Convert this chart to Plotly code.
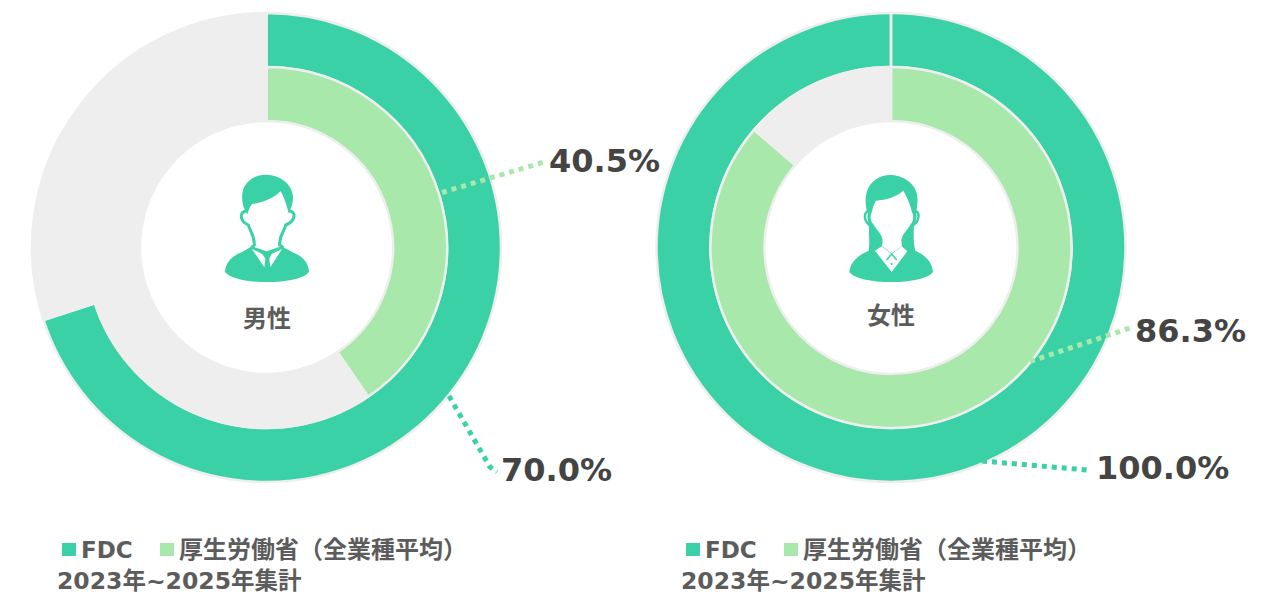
import plotly.graph_objects as go

# ---- data ----
panel_labels = ["男性", "女性"]
fdc_values = [70.0, 100.0]
mhlw_values = [40.5, 86.3]
series_names = ["FDC", "厚生労働省（全業種平均）"]
period_label = "2023年~2025年集計"

# ---- style ----
W, H = 1280, 603
TEAL, LIGHT, GREY, EDGE = "#3bd1a6", "#a8e8ab", "#eeeeee", "#eeeeee"
TXT, VAL = "#5c5c5c", "#444444"
LATIN_CJK = "'DejaVu Sans', 'Noto Sans CJK JP', sans-serif"
centers = [(266.5, 247.5), (891, 247.5)]
R_OUT, R_MID, R_IN = 234.5, 180.5, 126.5


def dom(cx, cy, r):
    return dict(x=[(cx - r) / W, (cx + r) / W], y=[1 - (cy + r) / H, 1 - (cy - r) / H])


fig = go.Figure()
for (cx, cy), fdc, mh, lab in zip(centers, fdc_values, mhlw_values, panel_labels):
    fig.add_trace(go.Pie(values=[fdc, 100 - fdc], labels=[series_names[0], "残り"], sort=False,
                         direction="clockwise", rotation=0, hole=R_MID / R_OUT, domain=dom(cx, cy, R_OUT),
                         marker=dict(colors=[TEAL, GREY], line=dict(color=EDGE, width=2.5)),
                         textinfo="none", hoverinfo="skip", showlegend=False))
    fig.add_trace(go.Pie(values=[mh, 100 - mh], labels=[series_names[1], "残り"], sort=False,
                         direction="clockwise", rotation=0, hole=R_IN / R_MID, domain=dom(cx, cy, R_MID),
                         marker=dict(colors=[LIGHT, GREY], line=dict(color=EDGE, width=2.5)),
                         textinfo="none", hoverinfo="skip", showlegend=False))

shapes = []


def P(d, fill=None, line=None, lw=0, ox=0, oy=0, s=1.0):
    """Path given in zoom-crop units (1/3 px) translated to the page."""
    out = []
    for tok in d.split():
        if "," in tok:
            a, b = tok.split(",")
            out.append(f"{ox + float(a) * s:.2f},{oy + float(b) * s:.2f}")
        else:
            out.append(tok)
    shapes.append(dict(type="path", xref="x", yref="y", path=" ".join(out),
                       fillcolor=fill or "rgba(0,0,0,0)",
                       line=dict(color=line or "rgba(0,0,0,0)", width=lw)))


def man(ox, oy):
    k = dict(ox=ox, oy=oy, s=1 / 3)
    # body with V-shaped neck opening
    P("M 165,365 C 167,335 190,316 215,307 L 246,289 L 290,304 L 334,289 L 368,307 "
      "C 395,317 415,335 417,365 C 405,385 350,396 290,396 C 230,396 178,385 165,365 Z", fill=TEAL, **k)
    # shirt wings beside the tie
    P("M 246,297 L 277,312 L 286,326 L 283,352 Z", fill="#ffffff", **k)
    P("M 336,297 L 305,312 L 298,326 L 301,352 Z", fill="#ffffff", **k)
    # neck and ear outline
    P("M 232,183 C 208,182 206,212 235,225 C 240,245 254,255 253,285 L 244,293", line=TEAL, lw=3, **k)
    P("M 356,183 C 378,182 380,212 347,225 C 343,245 328,255 329,285 L 340,293", line=TEAL, lw=3, **k)
    # hair
    P("M 232,192 C 216,172 212,135 222,112 C 238,84 265,72 295,75 C 335,78 367,105 369,140 "
      "C 370,160 362,178 356,190 C 350,165 342,140 332,124 C 310,145 280,158 246,162 C 240,170 236,180 232,192 Z",
      fill=TEAL, **k)


def woman(ox, oy):
    k = dict(ox=ox, oy=oy, s=1 / 3)
    # hair mass and body
    P("M 178,365 C 182,335 205,315 236,302 C 240,280 236,240 236,205 C 225,170 222,135 238,108 "
      "C 255,84 280,73 305,75 C 345,78 380,105 382,140 C 384,170 378,190 372,210 C 372,240 368,275 376,302 "
      "C 405,315 426,335 429,365 C 418,385 360,396 305,396 C 245,396 190,385 178,365 Z", fill=TEAL, **k)
    # face and neck
    P("M 258,152 C 290,150 320,140 340,122 C 350,140 362,165 366,188 C 372,192 372,215 362,222 "
      "C 355,240 336,250 334,272 L 336,288 L 305,310 L 276,288 L 278,272 C 276,250 258,240 250,222 "
      "C 240,215 240,192 246,186 C 248,172 252,162 258,152 Z", fill="#ffffff", **k)
    # ears
    P("M 238,183 C 222,182 218,212 240,226 L 236,200 Z", fill="#ffffff", line=TEAL, lw=2.5, **k)
    P("M 374,183 C 390,182 390,212 370,226 L 376,200 Z", fill="#ffffff", line=TEAL, lw=2.5, **k)
    # collar
    P("M 255,302 L 275,289 L 305,312 L 335,289 L 352,304 L 305,366 Z", fill="#ffffff", **k)
    P("M 290,330 L 305,312 L 320,330", line=TEAL, lw=1.5, **k)
    P("M 301,342 L 305,338 L 309,342 L 305,346 Z", fill=TEAL, **k)


man(170, 150)
woman(790, 150)

# seam of the complete outer ring on the right
shapes.append(dict(type="line", xref="x", yref="y", x0=891, x1=891, y0=13, y1=67,
                   line=dict(color=EDGE, width=2.5)))


def leader(pts, color):
    path = "M " + " L ".join(f"{x},{y}" for x, y in pts)
    shapes.append(dict(type="path", xref="x", yref="y", path=path,
                       line=dict(color=color, width=5, dash="5px,5px")))


leader([(442, 192.5), (544, 162)], LIGHT)
leader([(449, 396), (490, 467), (497, 472)], TEAL)
leader([(1030, 361.5), (1133, 327)], LIGHT)
leader([(982, 461), (1087, 470)], TEAL)

annotations = []


def text(x, y, s, size, color, anchor="left", bold=True, family=LATIN_CJK):
    annotations.append(dict(xref="x", yref="y", x=x, y=y, text=f"<b>{s}</b>" if bold else s, showarrow=False,
                            xanchor=anchor, yanchor="middle", align=anchor,
                            font=dict(size=size, color=color, family=family)))


value_pos = [((547, 161), (499, 470)), ((1133, 331), (1094, 468))]
for (p_mh, p_fdc), mh, fdc in zip(value_pos, mhlw_values, fdc_values):
    text(p_mh[0], p_mh[1], f"{mh:.1f}%", 32, VAL)
    text(p_fdc[0], p_fdc[1], f"{fdc:.1f}%", 32, VAL)

text(267, 319, panel_labels[0], 24, TXT, "center")
text(891, 316, panel_labels[1], 24, TXT, "center")

for ox in (0, 624):
    shapes.append(dict(type="rect", xref="x", yref="y", x0=62 + ox, x1=76 + ox, y0=543, y1=556,
                       fillcolor=TEAL, line=dict(width=0)))
    shapes.append(dict(type="rect", xref="x", yref="y", x0=160 + ox, x1=174 + ox, y0=543, y1=556,
                       fillcolor=LIGHT, line=dict(width=0)))
    text(79 + ox, 549.5, series_names[0], 23, TXT)
    text(177 + ox, 549.5, series_names[1], 24, TXT)
    text(55 + ox, 580.5, period_label, 23.5, TXT)

fig.update_layout(width=W, height=H, autosize=False, margin=dict(l=0, r=0, t=0, b=0),
                  paper_bgcolor="#ffffff", plot_bgcolor="#ffffff", showlegend=False,
                  xaxis=dict(range=[0, W], visible=False, fixedrange=True, domain=[0, 1]),
                  yaxis=dict(range=[H, 0], visible=False, fixedrange=True, domain=[0, 1]),
                  shapes=shapes, annotations=annotations)
fig.write_html("out.html", config=dict(displayModeBar=False),
               post_script="document.body.style.margin='0';document.body.style.overflow='hidden';")
